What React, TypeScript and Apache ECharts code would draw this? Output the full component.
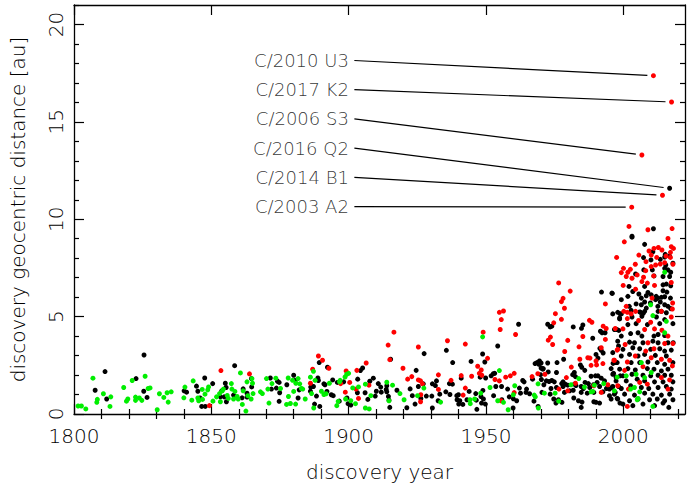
import React, { useEffect, useRef } from "react";
import * as echarts from "echarts";

// ---------- axis ranges & ticks ----------
const X_MIN = 1800;
const X_MAX = 2022.5;
const Y_MIN = 0;
const Y_MAX = 21;
const X_MAJOR = [1800, 1850, 1900, 1950, 2000];
const X_MINOR = [1810, 1820, 1830, 1840, 1860, 1870, 1880, 1890, 1910, 1920, 1930, 1940, 1960, 1970, 1980, 1990, 2010, 2020];
const Y_MAJOR = [0, 5, 10, 15, 20];
const Y_MINOR = [1, 2, 3, 4, 6, 7, 8, 9, 11, 12, 13, 14, 16, 17, 18, 19, 21];

const X_NAME = "discovery year";
const Y_NAME = "discovery geocentric distance [au]";

// ---------- labelled comets ----------
const COMET_NAMES = ["C/2010 U3", "C/2017 K2", "C/2006 S3", "C/2016 Q2", "C/2014 B1", "C/2003 A2"];
const COMET_YEARS = [2011.0, 2017.6, 2006.8, 2016.9, 2014.3, 2003.1];
const COMET_DIST = [17.37, 16.02, 13.30, 11.59, 11.23, 10.62];
const LABEL_YEAR = 1902.1;
const LABEL_DIST = [18.15, 16.65, 15.15, 13.65, 12.15, 10.65];
const LINE_GAP_YEARS = 2.2;

// ---------- scatter data [year, distance au] ----------
const GREEN: number[][] = [
  [1801.5,0.41],[1802.7,0.41],[1804.3,0.26],[1806.9,1.84],[1808.5,0.75],[1808.3,0.6],[1810.7,1.04],[1813.1,0.39],[1813.4,0.88],[1818.1,1.36],
  [1819.6,0.77],[1819.1,0.66],[1821.2,1.72],[1822.4,0.87],[1822.4,0.7],[1823.8,0.82],[1824.7,0.7],[1825.9,1.94],[1827,1.31],[1827.7,1.34],
  [1830.3,0.22],[1831.1,1.04],[1832.7,0.85],[1833.9,1.09],[1834.3,0.61],[1835.4,1.14],[1840,0.83],[1840.4,1.38],[1842.9,0.71],[1843.4,1.7],
  [1845.1,0.82],[1845.4,0.68],[1846.8,0.75],[1846.7,1.26],[1847.7,1.02],[1848.7,1.24],[1849,1.39],[1850.6,0.66],[1851.9,0.88],[1853.3,0.63],
  [1853,1.05],[1854,1.19],[1854.4,1.28],[1855.8,0.95],[1856.2,0.8],
  [1857.3,1.56],[1857.5,1.28],[1858.1,0.77],[1858.6,1.16],[1859.4,0.9],[1859.8,0.77],[1860.6,2.11],[1861.3,0.49],[1861.6,1.19],[1862.6,0.15],
  [1863,1.65],[1863.3,0.94],[1864.5,0.77],[1864.8,1.82],[1865,1.58],[1865.2,1.05],[1867.9,1.14],[1868.6,1.05],[1870.1,1.82],[1871,0.56],
  [1870.6,1.28],[1872.1,1.56],[1873.5,1.84],[1875.2,1.31],[1877.4,0.49],[1878.1,0.9],[1878,1.85],[1878.8,0.54],[1879.6,1.73],[1880,1.16],
  [1880.7,0.51],[1880.8,1.58],[1881.6,1.82],[1882.2,1.55],[1882.8,1.31],[1883.3,1.28],[1884.2,0.77],[1886.1,1.89],[1886.5,1.05],[1887.2,2.19],
  [1887.3,0.31],[1887.8,1.73],[1890.1,1.17],[1891,1],[1891.8,1.04],[1893,1.58],[1895.7,0.43],[1896.2,0.65],[1896.7,1.65],[1896.9,1.73],
  [1898.7,1.9],[1899.3,2.04],[1900,2.09],[1898.9,0.77],[1900.8,0.68],[1902.5,0.53],[1901.5,1.34],[1903.6,1.39],[1906.1,1.53],[1906.1,0.31],
  [1907.5,0.26],[1908.1,0.94],[1913.9,1.63],
  [1916,1.48],[1914.7,0.68],[1918.7,1.05],[1920.2,0.73],[1925.1,0.94],[1927.4,1.33],[1933.5,0.61],[1944.2,0.73],[1944.3,0.53],[1945.9,0.77],
  [1948.1,1.07],[1948.8,3.96],[1951.5,1.36],[1954.3,0.68],[1954.9,2.23],[1956.4,0.6],[1958.1,0.22],[1960,0.99],[1960.5,1.45],[1967.6,0.97],
  [1968,0.88],[1969,1.55],[1969.1,0.31],
  [1971.3,1.07],[1975.2,1.07],[1976.5,0.66],[1981,1.5],[1983.8,1.82],[1985.9,1.38],[1988.3,1.14],[1988.9,1.16],[1989.5,1.48],[1992.9,1.56],
  [1997.8,1.89],[2015.1,7.28],[2010,5.61],
  [2010.8,5.05],[2015.7,4.76],[2015.1,4.17],[2006.6,2.64],[2001.1,1.96],[2004.7,2.04],[2007.8,1.87],[2010.2,2.13],[2002.7,1.28],[2004.1,1.36],
  [2006,1.14],[2005.4,0.8],[2005.1,0.73],[2010.8,0.39],[1996.8,1.19]
];

const RED: number[][] = [
  [1849.3,0.43],[1853.5,2.23],
  [1863.9,2.06],[1889,2.98],[1890.5,2.76],[1886.9,2.3],[1892.8,2.35],[1886.1,1.58],[1899.1,2.21],[1897.1,1.56],[1900.4,1.62],[1898.8,1.12],
  [1902.7,1.28],[1903,2.24],[1903.6,0.8],[1906.4,2.62],[1907.4,1.48],
  [1914.4,3.54],[1916.5,4.2],[1915,2.79],[1919.8,2.35],[1921.5,1.79],[1923,1.92],[1925.4,3.44],[1925.4,1.75],[1926.2,1.7],[1926.9,1.55],
  [1926.3,0.99],[1926.2,0.63],[1932.7,2.01],[1932.7,1.26],[1936,3.76],[1937.3,1.73],[1941,1.97],[1942.5,3.59],[1942.5,1.33],[1941.7,0.97],
  [1944.8,1.94],[1947,2.45],[1947.6,2.09],[1948.3,2.26],[1948.5,1.99],[1949,4.2],[1950.6,2.86],[1953.3,1.77],[1954.9,5.22],[1956.4,5.29],
  [1955.6,4.85],[1955.2,4.34],[1954.9,1.7],[1957.2,1.89],[1958.9,1.96],[1960.3,2.09],[1960.8,4.08],[1960.3,1.1],[1955.5,0.68],[1966.8,1.92],
  [1968.9,2.07],
  [1976.5,6.73],[1977.5,5.77],[1978.1,5.94],[1978.6,5.43],[1975.3,5.15],[1974.7,4.68],[1977.5,4.86],[1980.7,6.31],[1973.5,3.95],[1972.7,3.79],
  [1974.3,3.57],[1979.8,3.78],[1978.7,3.21],[1985.3,3.98],[1983.9,3.45],[1987.7,4.81],[1988.6,4.71],[1992.7,4.51],[1993.8,4.39],[1993.5,5.65],
  [1997.6,8.04],[1999.3,7.26],[1997.1,4.39],[1993.5,3.83],[1992,3.4],[1987.1,2.89],[1987.9,2.87],[1984.2,2.81],[1990.1,2.72],[1988.3,2.5],
  [1990.3,2.52],[1981.1,2.41],[1992.6,2.59],[1996.6,2.76],[1998,3.32],[1971.5,2.04],[1979.3,1.87],[1976.6,1.28],[1982.6,1.58],[1989.3,1.45],
  [1994.4,1.5],[1992,1.11],[1979.8,1.19],
  [2002.1,9.63],[2009,9.46],[2017.8,9.52],[2000.4,8.84],[2016.3,9.01],[2011.2,8.5],[2012.8,8.55],[2014.1,8.42],[2005.7,8.16],[2009.4,8.37],
  [2010.2,8.16],[2017.5,8.59],[2018.3,8.5],[2017.2,8.3],[2012.2,8.04],[2015.6,8.11],[2017.2,8.04],[2004.4,7.69],[2000.1,7.48],[2002.6,7.43],
  [2001.7,7.28],[2005.1,7.14],[2008.3,7.82],[2008.2,7.36],[2010.2,7.57],[2011.8,7.65],[2013.5,7.7],[2015.1,7.77],[2018.1,7.69],[2001.1,7.06],
  [2003.2,6.97],[2007.4,7.02],[2006.8,6.8],[2008.8,6.72],[2011.4,6.6],[2017.5,6.75],[2000,6.6],[2004.5,6.41],[2011.1,7.09],[2001.1,5.53],
  [2000.2,5.27],[2001.5,5.22],[2002.9,5.14],[2010.5,5.95],[2018,5.7],[2017.9,5.39],
  [2004.5,5.27],[2013.9,5.27],[2017.5,4.98],[2001.5,4.9],[2005.6,4.8],[2010,4.71],[1999.9,4.37],[2007.8,4.34],[2011.4,4.37],
  [2014.1,4.3],[2016.3,4],[2000.7,3.57],[1997.8,3.28],[2009,3.66],[2008.2,3.23],[2011.2,3.35],[2015.1,3.62],[2018.1,3.62],[1996.8,2.76],
  [2001.5,2.67],[2004.4,2.98],[2010.2,2.89],[2013.9,2.81],[2016.9,2.76],[2017.9,2.47],[2000.5,2.24],[2007.2,2.43],[2008.8,1.53],[2013.9,1.87],
  [2016.9,1.75],[2001.9,1.28],[2006,1.62],[2001.5,0.39],[2016.3,1.28],[1998,1.45],
  [2011.0,17.37],[2017.6,16.02],[2006.8,13.30],[2014.3,11.23],[2003.1,10.62]
];

const BLACK: number[][] = [
  [1807.7,1.22],[1811.3,2.18],[1811.9,0.77],[1822.6,1.82],[1825.5,3.03],[1825.4,1.17],[1826.6,0.85],[1840.1,1.19],[1841,1.12],[1844.6,1.43],
  [1845.1,1.17],[1845.9,0.82],[1846.5,0.39],[1847.8,0.39],[1847.6,1.85],[1850.5,1.56],[1853.3,0.88],[1853.8,1.19],[1854.7,0.88],[1855.1,1.58],
  [1855.4,1.36],[1855.5,0.63],
  [1858.5,2.48],[1858.1,0.97],[1861.6,1.29],[1863,1.07],[1863,0.87],[1864.7,1.39],[1864.6,1.82],[1861.2,0.83],[1871.5,1.85],[1871.9,1.28],
  [1874.1,1.68],[1873.7,1.33],[1874.7,1.62],[1874.9,1.09],[1874.7,0.65],[1877.5,1.5],[1880,1.99],[1880.6,1.73],[1882,1.24],[1881.6,0.82],
  [1886.2,1.38],[1886.6,1.43],[1886.1,1.17],[1887.2,1.41],[1887.6,0.51],[1888.3,0.92],[1889,1.72],[1889.3,2.64],[1888.8,1.85],[1889.5,0.39],
  [1891,1.55],[1891.4,1.5],[1892.1,1.16],[1892.3,2.4],[1893.7,0.99],[1894.2,1.75],[1894.4,0.94],[1895.9,1.62],[1896.6,0.66],[1898.2,1.65],
  [1899.4,0.82],[1899.8,0.53],[1900.8,0.46],[1903.3,1.79],[1903.2,1.09],[1904.3,2.23],[1905.1,2.36],[1906,1.09],[1907,0.75],[1907.7,1.68],
  [1909,1.84],[1909.7,0.92],[1910.1,1.17],[1910.8,1.56],[1911.7,1.38],[1911.9,1.12],[1913.7,1.26],[1913.9,1.14],
  [1913.9,1.45],[1914.5,0.9],[1915,0.34],[1914.7,0.71],[1915.3,2.81],[1917.6,1.22],[1921.2,0.32],[1922.4,1.29],[1923.2,0.94],[1924.2,0.51],
  [1924.6,2.24],[1925.4,1.41],[1926.3,0.8],[1927.5,3.1],[1927.2,1.55],[1928.3,0.92],[1930.3,0.92],[1930.5,1.55],[1930.5,0.31],[1931.6,1.46],
  [1932,1.7],[1933.2,1.02],[1932.6,0.68],[1935.4,1.14],[1935.6,3.27],[1936.9,1],[1936.7,1.56],[1937.8,1.53],[1937.9,2.64],[1939.4,0.94],
  [1939.5,0.73],[1940,0.99],[1940.1,0.51],[1940.5,0.68],[1941,1.84],[1941.6,0.49],[1943.1,0.73],[1944.6,2.7],[1943.9,1.16],[1946.3,1.05],
  [1946.5,0.71],[1946.7,0.24],[1947.9,1.89],[1948.2,0.9],[1948.4,0.56],[1948.8,3.08],[1948.9,1.21],[1949.1,0.77],[1949.6,2.67],[1949.9,1.85],
  [1949.8,0.51],[1951.9,1.96],[1952.7,2.07],[1953.2,2.09],[1953.6,1.41],[1954.3,3.49],[1952.8,0.94],[1955.7,1.41],[1955.8,0.73],[1957.9,1.28],
  [1958.5,0.88],[1959.9,0.31],[1960,0.78],[1961.2,0.68],[1961.9,4.61],[1962.2,1.33],[1962.6,1.07],[1963.4,1.72],[1963.9,1.65],[1964.6,1.11],
  [1964.8,1.28],[1965.9,1.04],[1967,1.79],[1967.5,0.66],[1967.9,2.59],[1968.6,2.64],[1969.5,2.72],[1969.3,2.55],[1969,0.39],[1969.9,2.02],
  [1970.2,1.77],[1970.7,2.3],[1970.4,1.11],
  [1992.1,6.26],[1996,6.19],[1998.9,5.14],[1972.5,4.61],[1973.4,4.47],[1974,4.51],[1981.8,4.47],[1984.8,4.4],[1985.3,4.57],[1988.9,3.89],
  [1992.3,4.17],[1991.7,4.25],[1993.4,4.17],[1997.7,4.34],[1998.7,4.88],[1998.4,4.29],[1991.5,3.37],[1992,3.27],[1992.7,3.13],[1998.3,3.49],
  [1978.3,2.81],[1975.9,2.64],[1972.5,2.62],[1970.1,2.62],[1990.1,3.06],[1990.8,2.87],[1984.4,2.52],[1984.9,2.4],[1996.3,2.6],[1995.6,2.33],
  [1997.8,2.64],[1970.1,2.36],[1970.9,2.33],[1972.7,2.16],[1973,1.67],[1974,1.72],[1975.7,2.13],[1974.9,1.65],[1978.1,1.65],[1981.6,2.02],
  [1982.2,2.13],[1982.6,1.92],[1986,2.24],[1986.1,1.62],[1988.3,1.94],[1989.9,1.96],[1990.8,1.96],[1992,1.84],[1993.2,1.7],[1996.5,2.09],
  [1997.4,1.89],[1998.9,1.96],[1972,1.7],[1971.1,1.5],[1977.6,1.56],[1978.1,1.41],[1978.9,1.53],[1979.8,1.48],[1982.2,1.53],[1982.8,1.46],
  [1984.7,1.41],[1985.5,1.31],[1987.3,1.56],[1987.8,1.36],[1989.2,1.5],[1990.5,1.62],[1991.4,1.41],[1993.9,1.31],[1995,1.28],[1996.2,1.41],
  [1998.3,1.41],[1973.7,1.31],[1975.7,1.36],[1978.6,1.11],[1980.5,1.19],[1981.8,1.22],[1984.7,1.11],[1986.9,1.07],[1989.3,1.11],[1992.6,1.14],
  [1995,0.94],[1997.1,1.11],[1973.4,1.02],[1974.7,0.77],[1976.4,0.73],[1977.7,0.6],[1975.5,0.56],[1982,0.82],[1983.7,0.68],[1984.7,0.34],
  [1985,0.61],[1989.3,0.63],[1990.1,0.6],[1991.4,0.56],[1995.6,0.77],[1997.8,0.8],[1998.8,0.56],
  [2003.2,9.13],[2011,9.51],[2007.8,8.71],[2010.8,8.33],[2003.2,9.08],[2007.4,8.03],[2010.1,7.91],[2013.5,7.94],[2015.1,8.06],[2015.3,8.2],
  [2016.9,8.11],[2018.1,7.74],[2015.5,7.65],[2004.5,7.19],[2007.5,7.4],[2010.6,7.4],[2015.1,7.48],[2016.3,7.4],[2017.3,7.28],[2011.2,7.09],
  [2014.5,7.06],[2016.9,7.06],[2002.1,6.55],[2007.8,6.55],[2014.5,6.63],[2015.7,6.67],[2017.3,6.58],[2003.5,6.29],[2005.7,6.16],[2009,6.24],
  [2014.5,6.33],[2015.9,6.26],[1995.9,6.21],[2001.7,6.04],[2006.6,5.95],[2008.4,6.07],[2010.2,6.12],[2012,6.04],[2012.6,5.95],[2013.9,5.99],
  [2015.1,6.02],[2017.2,5.95],[1999.3,5.87],[2007.8,5.75],[2009.9,5.7],[2011.8,5.87],[2013.5,5.75],[2015.1,5.61],[2006.6,5.61],[2002.2,5.53],
  [2004.7,5.65],[2008.4,5.44],[2012.6,5.53],[2016.3,5.53],[2017.3,5.41],[1996.2,5.14],[1999.3,5.14],[2006,5.24],[2007.3,5.17],[2013.9,5.27],
  [2015.7,5.2],
  [1998,5.22],[2002.9,5.32],[2006.3,5.22],[2007.8,5.27],[2012.7,5.27],[1998.7,4.93],[2003.2,4.98],[2006.8,5.02],[2012.1,4.98],
  [2015.1,4.85],[2001.7,4.59],[2004.7,4.64],[2008.8,4.59],[2013.3,4.64],[2018.1,4.64],[1996.8,4.34],[2002.7,4.13],[2005.4,4.17],[2006.8,4],
  [2011.2,4],[2012.7,4.08],[2015.1,4.03],[2018.2,3.66],[1999.3,4],[1998,3.74],[2002.3,3.69],[2004.1,3.66],[2007.2,3.66],[2010.8,3.74],
  [2012.7,3.66],[2016.3,3.66],[1999.9,3.32],[2003.5,3.4],[2006,3.35],[2010,3.32],[2013.3,3.35],[2015.1,3.23],[2017.5,3.28],[1996.2,3.15],
  [1999.3,2.98],[2002.3,3.06],[2005.4,2.98],[2007.8,3.06],[2011.7,3.01],[2015.7,2.98],[1997.4,2.64],[2002.9,2.64],[2006,2.64],[2009,2.67],
  [2012.4,2.64],[2015.1,2.55],[2018.1,2.64],[1998.7,2.3],[2001.7,2.33],[2004.4,2.26],[2008.8,2.33],[2011.2,2.3],[2013.9,2.21],[2016.3,2.3],
  [1996.2,2.04],[1999.9,1.96],[2003.2,2.04],[2007.2,1.99],[2010,1.96],[2012.7,1.99],[2015.1,1.99],[2017.5,1.99],[1997.4,1.7],[2001.1,1.7],
  [2005.1,1.79],[2007.8,1.7],[2011.4,1.65],[2014.5,1.65],[2018.1,1.65],[1995.9,1.36],[1999.3,1.31],[2002.7,1.45],[2006.6,1.36],[2009.3,1.31],
  [2012.7,1.36],[2015.7,1.41],[2017.5,1.28],[1996.8,1.02],[2000.5,1.02],[2004.1,0.97],[2007.8,1.07],[2010.8,1.02],[2013.9,0.97],[2016.9,1.02],
  [1998,0.77],[2002.3,0.68],[2005.4,0.77],[2009.6,0.73],[2012.4,0.77],[2015.1,0.68],[2018.1,0.73],[1999.9,0.51],[2003.5,0.43],[2007.2,0.51],
  [2011.4,0.43],[2014.5,0.56],[2016.6,0.34],
  [2016.9,11.59]
];

const FONT = "DejaVu Sans";

export default function App() {
  const ref = useRef<HTMLDivElement | null>(null);

  useEffect(() => {
    if (!ref.current) return;
    const chart = echarts.init(ref.current, undefined, { renderer: "svg" });

    const axisLineStyle = { color: "#000", width: 1.3 };
    const tickStyle = { color: "#000", width: 1.2 };
    const txt = { color: "#000", fontFamily: FONT, fontWeight: 200 };

    const xAxisBase = { type: "value", min: X_MIN, max: X_MAX, gridIndex: 0, splitLine: { show: false } };
    const yAxisBase = { type: "value", min: Y_MIN, max: Y_MAX, gridIndex: 0, splitLine: { show: false } };

    const xAxes = [
      {
        ...xAxisBase,
        position: "bottom",
        axisLine: { show: true, onZero: false, lineStyle: axisLineStyle },
        axisTick: { show: true, inside: true, length: 10, customValues: X_MAJOR, lineStyle: tickStyle },
        axisLabel: { show: true, customValues: X_MAJOR, margin: 12, fontSize: 20, ...txt, formatter: (v: number) => String(Math.round(v)) },
        name: X_NAME,
        nameLocation: "middle",
        nameGap: 48,
        nameTextStyle: { fontSize: 20, ...txt },
      },
      {
        ...xAxisBase,
        position: "bottom",
        axisLine: { show: false },
        axisTick: { show: true, inside: true, length: 5, customValues: X_MINOR, lineStyle: tickStyle },
        axisLabel: { show: false },
      },
      {
        ...xAxisBase,
        position: "top",
        axisLine: { show: true, onZero: false, lineStyle: axisLineStyle },
        axisTick: { show: true, inside: true, length: 10, customValues: X_MAJOR, lineStyle: tickStyle },
        axisLabel: { show: false },
      },
      {
        ...xAxisBase,
        position: "top",
        axisLine: { show: false },
        axisTick: { show: true, inside: true, length: 5, customValues: X_MINOR, lineStyle: tickStyle },
        axisLabel: { show: false },
      },
    ];

    const yAxes = [
      {
        ...yAxisBase,
        position: "left",
        axisLine: { show: true, onZero: false, lineStyle: axisLineStyle },
        axisTick: { show: true, inside: true, length: 10, customValues: Y_MAJOR, lineStyle: tickStyle },
        axisLabel: { show: true, customValues: Y_MAJOR, rotate: 90, margin: 8, fontSize: 20, ...txt },
        name: Y_NAME,
        nameLocation: "middle",
        nameGap: 46,
        nameTextStyle: { fontSize: 20, ...txt },
      },
      {
        ...yAxisBase,
        position: "left",
        axisLine: { show: false },
        axisTick: { show: true, inside: true, length: 5, customValues: Y_MINOR, lineStyle: tickStyle },
        axisLabel: { show: false },
      },
      {
        ...yAxisBase,
        position: "right",
        axisLine: { show: true, onZero: false, lineStyle: axisLineStyle },
        axisTick: { show: true, inside: true, length: 10, customValues: Y_MAJOR, lineStyle: tickStyle },
        axisLabel: { show: false },
      },
      {
        ...yAxisBase,
        position: "right",
        axisLine: { show: false },
        axisTick: { show: true, inside: true, length: 5, customValues: Y_MINOR, lineStyle: tickStyle },
        axisLabel: { show: false },
      },
    ];

    const scatter = (data: number[][], color: string, z: number) => ({
      type: "scatter",
      data,
      xAxisIndex: 0,
      yAxisIndex: 0,
      symbol: "circle",
      symbolSize: 5,
      itemStyle: { color, opacity: 1 },
      z,
      silent: true,
      emphasis: { disabled: true },
    });

    const leaderLines = COMET_NAMES.map((name, i) => {
      const x0 = LABEL_YEAR;
      const y0 = LABEL_DIST[i];
      const x1 = COMET_YEARS[i];
      const y1 = COMET_DIST[i];
      const xe = x1 - LINE_GAP_YEARS;
      const ye = y0 + ((y1 - y0) * (xe - x0)) / (x1 - x0);
      return {
        type: "line",
        name,
        data: [[x0, y0], [xe, ye]],
        xAxisIndex: 0,
        yAxisIndex: 0,
        symbol: "none",
        lineStyle: { color: "#000", width: 1.2 },
        silent: true,
        z: 1,
      };
    });

    const labelSeries = {
      type: "scatter",
      xAxisIndex: 0,
      yAxisIndex: 0,
      symbolSize: 1,
      itemStyle: { color: "rgba(0,0,0,0)" },
      silent: true,
      data: COMET_NAMES.map((name, i) => ({ name, value: [LABEL_YEAR, LABEL_DIST[i]] })),
      label: {
        show: true,
        position: "left",
        distance: 5,
        formatter: "{b}",
        fontSize: 18,
        ...txt,
      },
      z: 5,
    };

    chart.setOption({
      animation: false,
      backgroundColor: "#fff",
      textStyle: { fontFamily: FONT },
      grid: { left: 74, right: 2, top: 5, bottom: 82, containLabel: false },
      xAxis: xAxes,
      yAxis: yAxes,
      series: [
        ...leaderLines,
        scatter(BLACK, "#000000", 2),
        scatter(RED, "#ff0000", 3),
        scatter(GREEN, "#00ee00", 4),
        labelSeries,
      ],
    });

    return () => chart.dispose();
  }, []);

  return <div ref={ref} style={{ width: 687, height: 496, position: "absolute", left: 0, top: 0 }} />;
}
